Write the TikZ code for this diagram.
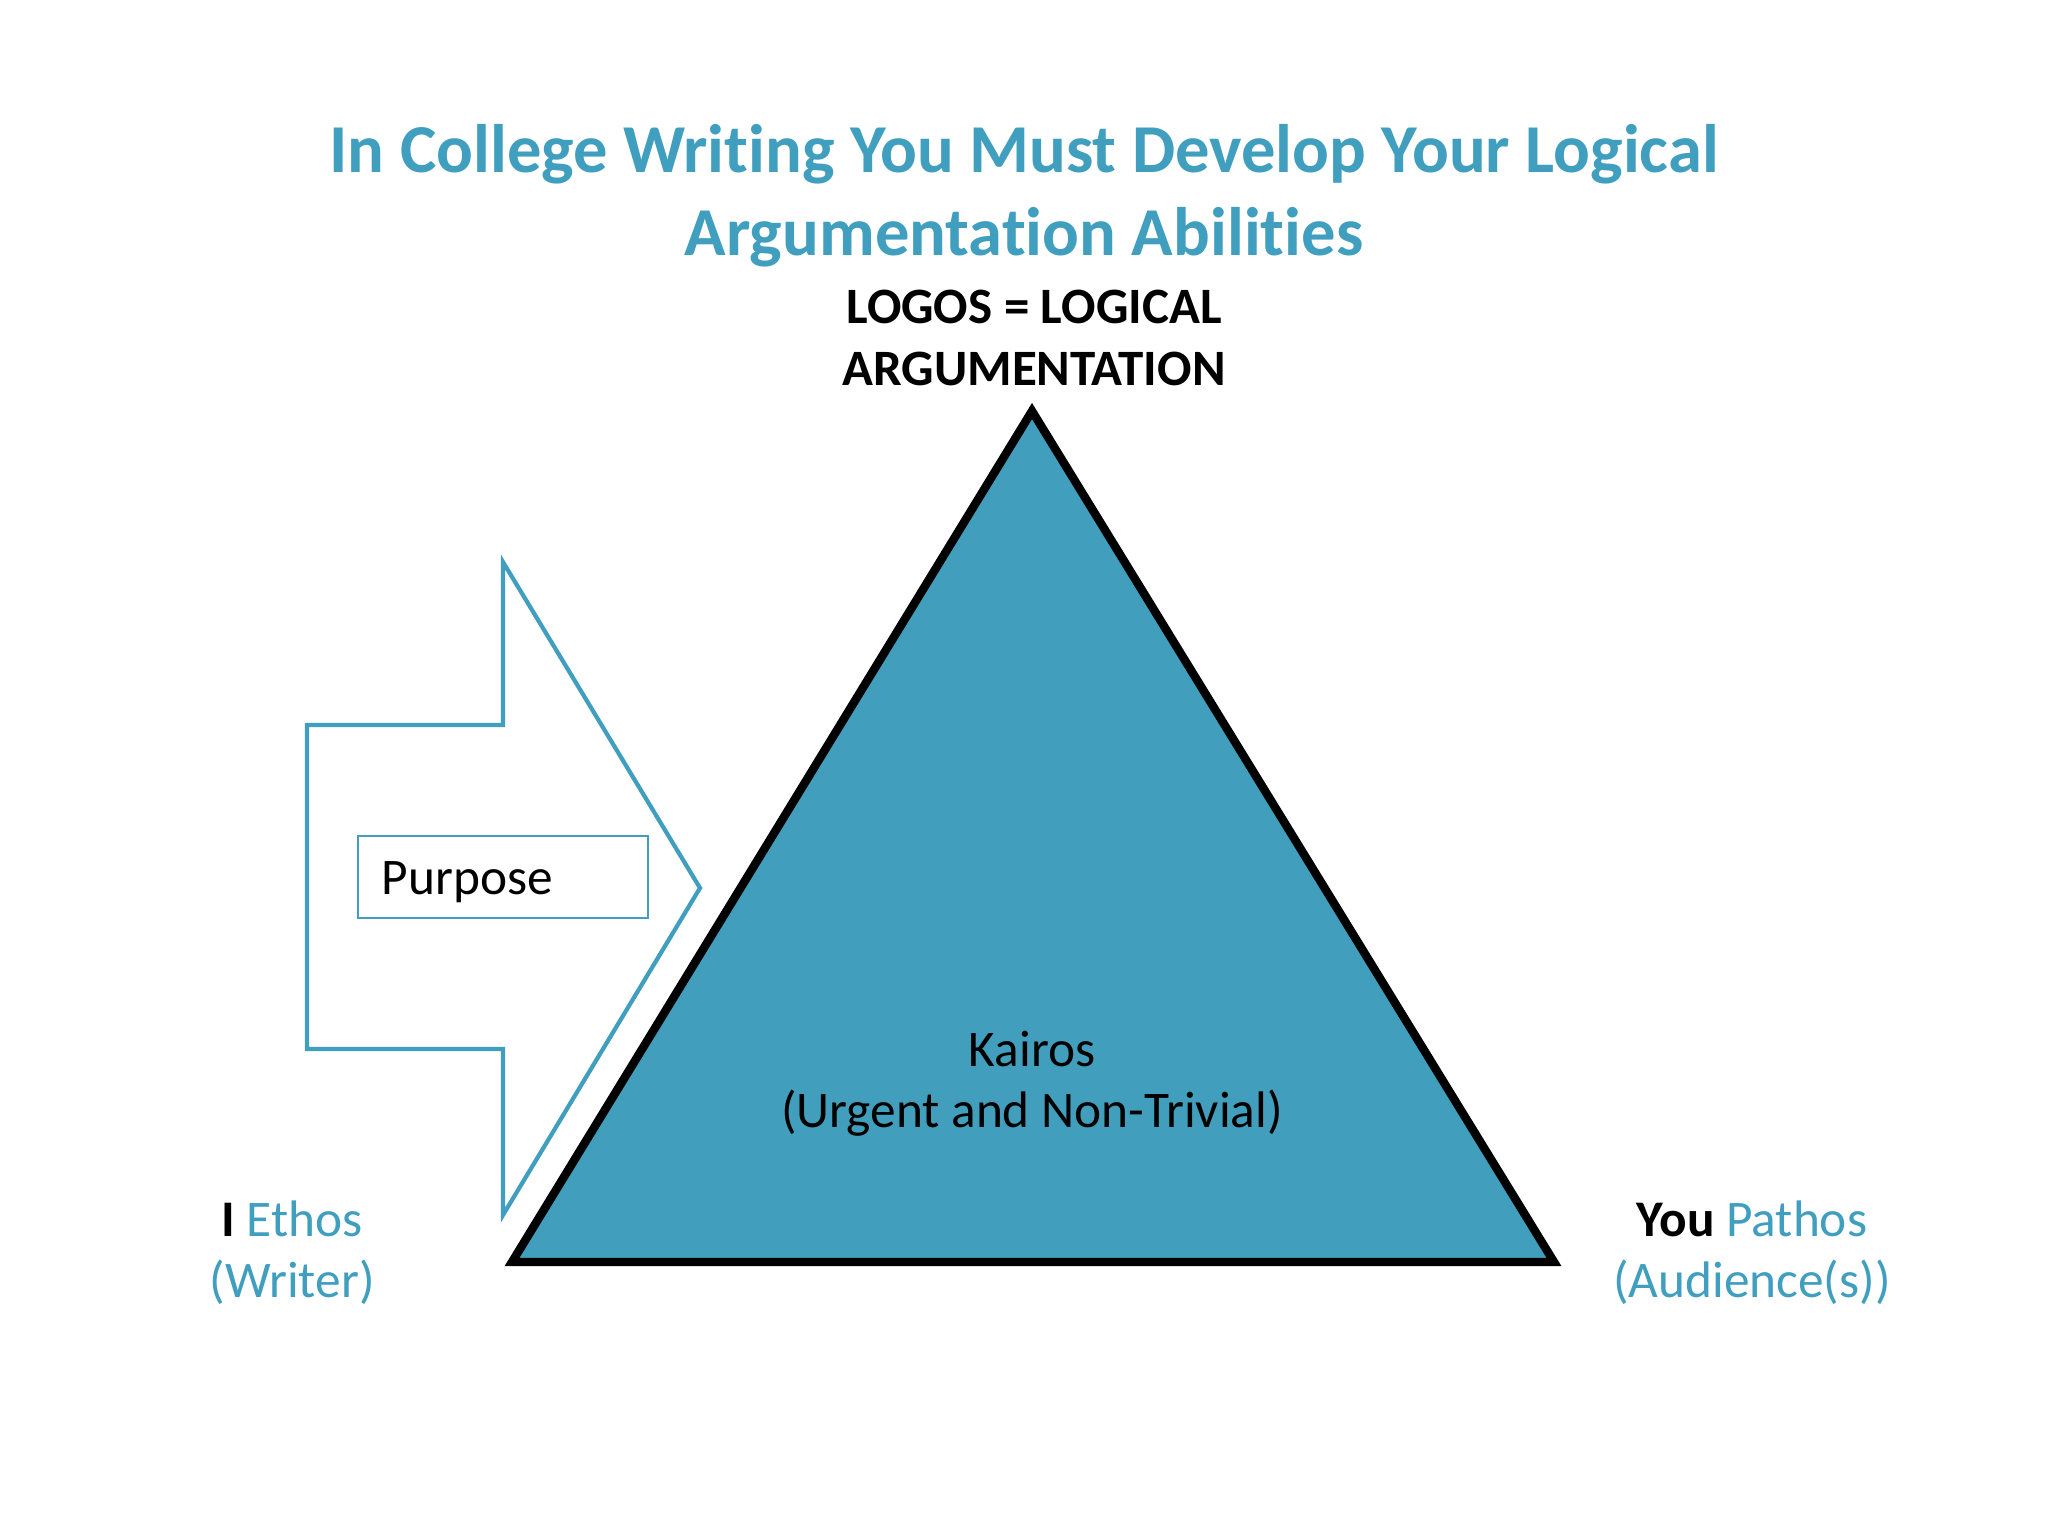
\documentclass[tikz,border=0pt]{standalone}
\usepackage{fontspec}
\setmainfont[Ligatures=NoCommon]{Carlito}
\usetikzlibrary{positioning}
\definecolor{teal1}{RGB}{64,158,190}
\definecolor{tri}{RGB}{65,159,189}

\begin{document}
\begin{tikzpicture}[x=0.01cm,y=-0.01cm,
	title/.style={text=teal1, font=\fontsize{19.5}{23.5}\selectfont\bfseries, align=center},
	apex/.style={font=\fontsize{14.5}{17.4}\selectfont\bfseries, align=center},
	body/.style={font=\fontsize{14.6}{17.4}\selectfont, align=center},
	corner/.style={body, text=teal1}]
	\useasboundingbox (0,0) rectangle (2048,1536);

	\node[title] (head) at (1024,196) {In College Writing You Must Develop Your Logical\\Argumentation Abilities};
	\node[apex] (logos) at (1034,338) {LOGOS = LOGICAL\\ARGUMENTATION};

	\coordinate (top) at (1032,411);
	\coordinate (bl) at (512,1262);
	\coordinate (br) at (1554,1262);
	\draw[line width=2.4pt, fill=tri, line join=miter] (top) -- (br) -- (bl) -- cycle;

	\coordinate (a1) at (307,725);
	\coordinate (a2) at (503,725);
	\coordinate (a3) at (503,562);
	\coordinate (tip) at (700,888);
	\coordinate (a5) at (503,1215);
	\coordinate (a6) at (503,1049);
	\coordinate (a7) at (307,1049);
	\draw[teal1, line width=1.2pt, fill=white] (a1) -- (a2) -- (a3) -- (tip) -- (a5) -- (a6) -- (a7) -- cycle;

	\node[draw=teal1, line width=0.8pt, minimum width=2.9cm, minimum height=0.82cm, inner sep=0pt] (purposebox) at (503,877) {};
	\node[body, anchor=west] (purpose) at ([xshift=0.13cm,yshift=-0.05cm]purposebox.west) {Purpose};

	\node[body] (kairos) at (1032,1084) {Kairos\\(Urgent and Non-Trivial)};

	\node[corner] (ethos) at (292,1253) {\textcolor{black}{\bfseries I} Ethos\\(Writer)};
	\node[corner] (pathos) at (1752,1253) {\textcolor{black}{\bfseries You} Pathos\\(Audience(s))};
\end{tikzpicture}
\end{document}
